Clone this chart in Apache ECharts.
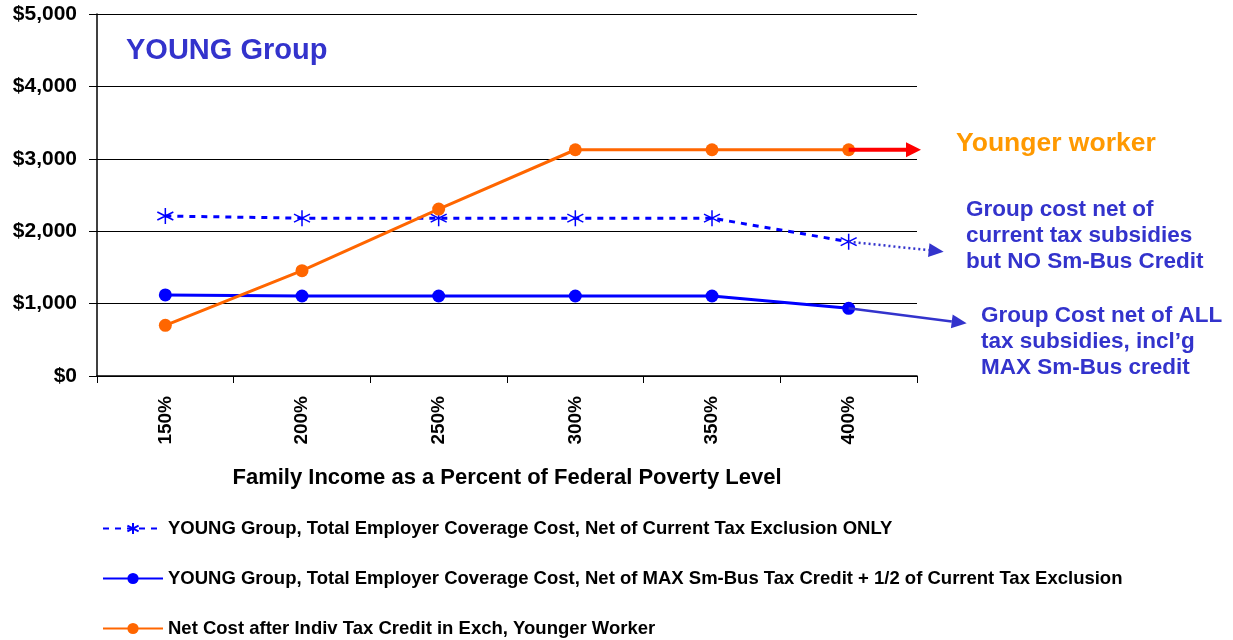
<!DOCTYPE html>
<html>
<head>
<meta charset="utf-8">
<title>YOUNG Group – coverage cost by income</title>
<script src="https://cdn.jsdelivr.net/npm/echarts@6/dist/echarts.min.js"></script>
<style>
  html, body { margin: 0; padding: 0; background: #fff; }
  #main { width: 1233px; height: 640px; }
</style>
</head>
<body>
<div id="main"></div>
<script>
// Income levels (percent of federal poverty level)
const categories = ['150%', '200%', '250%', '300%', '350%', '400%'];

// Employer coverage cost net of the current tax exclusion only
const groupNetExclusion = [2210, 2180, 2180, 2180, 2180, 1855];
// Employer coverage cost net of MAX small-business credit + 1/2 exclusion
const groupNetAllCredits = [1120, 1105, 1105, 1105, 1105, 935];
// Individual net cost after exchange tax credit, younger worker
const youngerWorkerNet = [700, 1455, 2305, 3125, 3125, 3125];

const yTicks = { min: 0, max: 5000, interval: 1000 };

const seriesNames = [
  'YOUNG Group, Total Employer Coverage Cost, Net of Current Tax Exclusion ONLY',
  'YOUNG Group, Total Employer Coverage Cost, Net of MAX Sm-Bus Tax Credit + 1/2 of Current Tax Exclusion',
  'Net Cost after Indiv Tax Credit in Exch, Younger Worker'
];

const FONT = '"Liberation Sans", Arial, Helvetica, sans-serif';
const BLUE = '#0000ff';
const ORANGE = '#ff6600';
const NOTE_BLUE = '#3333cc';

const asterisk = 'path://M5,0L5,10M0.7,2.5L9.3,7.5M0.7,7.5L9.3,2.5';

const chart = echarts.init(document.getElementById('main'), null, { renderer: 'canvas' });

function legendAt(name, top) {
  return {
    data: [name],
    orient: 'horizontal',
    left: 102,
    top: top,
    padding: 0,
    itemWidth: 60,
    itemHeight: 14,
    itemGap: 0,
    selectedMode: false,
    textStyle: { fontFamily: FONT, fontSize: 18.5, fontWeight: 'bold', color: '#000', padding: [0, 0, 0, 0] }
  };
}

chart.setOption({
  animation: false,
  backgroundColor: '#fff',
  grid: { left: 97, right: 316, top: 14, bottom: 264, containLabel: false },
  legend: [
    legendAt(seriesNames[0], 519),
    legendAt(seriesNames[1], 569),
    legendAt(seriesNames[2], 619)
  ],
  xAxis: {
    type: 'category',
    data: categories,
    boundaryGap: true,
    axisLine: { lineStyle: { color: '#000', width: 1.5 } },
    axisTick: { show: true, length: 7, lineStyle: { color: '#000', width: 1 } },
    axisLabel: {
      rotate: 90, margin: 20, color: '#000',
      fontFamily: FONT, fontSize: 19, fontWeight: 'bold'
    },
    name: 'Family Income as a Percent of Federal Poverty Level',
    nameLocation: 'middle',
    nameGap: 91,
    nameTextStyle: { fontFamily: FONT, fontSize: 22, fontWeight: 'bold', color: '#000' }
  },
  yAxis: {
    type: 'value',
    min: yTicks.min, max: yTicks.max, interval: yTicks.interval,
    axisLine: { show: true, lineStyle: { color: '#000', width: 1.5 } },
    axisTick: { show: true, length: 8, lineStyle: { color: '#000', width: 1 } },
    splitLine: { show: true, lineStyle: { color: '#000', width: 1 } },
    axisLabel: {
      margin: 20, color: '#000',
      fontFamily: FONT, fontSize: 21, fontWeight: 'bold',
      formatter: v => '$' + v.toLocaleString('en-US')
    }
  },
  series: [
    {
      name: seriesNames[0],
      type: 'line',
      data: groupNetExclusion,
      symbol: asterisk,
      symbolSize: 16,
      lineStyle: { color: BLUE, width: 3, type: [6, 6] },
      itemStyle: { color: BLUE, borderColor: BLUE, borderWidth: 1.5 },
      z: 2
    },
    {
      name: seriesNames[1],
      type: 'line',
      data: groupNetAllCredits,
      symbol: 'circle',
      symbolSize: 13,
      lineStyle: { color: BLUE, width: 3 },
      itemStyle: { color: BLUE, borderWidth: 0 },
      z: 3
    },
    {
      name: seriesNames[2],
      type: 'line',
      data: youngerWorkerNet,
      symbol: 'circle',
      symbolSize: 13,
      lineStyle: { color: ORANGE, width: 3 },
      itemStyle: { color: ORANGE, borderWidth: 0 },
      z: 4
    }
  ]
});

// Pointer arrows from the last point of each series out to the notes
function arrow(p0, p1, color, width, dash, headLen, headW) {
  const dx = p1[0] - p0[0], dy = p1[1] - p0[1];
  const len = Math.hypot(dx, dy);
  const ux = dx / len, uy = dy / len;
  const bx = p1[0] - ux * headLen, by = p1[1] - uy * headLen;
  const px = -uy * headW / 2, py = ux * headW / 2;
  return [
    {
      type: 'line', z: 50, silent: true,
      shape: { x1: p0[0], y1: p0[1], x2: bx, y2: by },
      style: { stroke: color, lineWidth: width, lineDash: dash || null }
    },
    {
      type: 'polygon', z: 50, silent: true,
      shape: { points: [[p1[0], p1[1]], [bx + px, by + py], [bx - px, by - py]] },
      style: { fill: color }
    }
  ];
}

const last = categories.length - 1;
const pOrange = chart.convertToPixel({ seriesIndex: 2 }, [last, youngerWorkerNet[last]]);
const pDashed = chart.convertToPixel({ seriesIndex: 0 }, [last, groupNetExclusion[last]]);
const pSolid = chart.convertToPixel({ seriesIndex: 1 }, [last, groupNetAllCredits[last]]);
const prev = chart.convertToPixel({ seriesIndex: 2 }, [last - 1, youngerWorkerNet[last - 1]]);
const band = pOrange[0] - prev[0];

const notes = [
  { text: 'YOUNG Group', x: 126, y: 51, size: 29, color: NOTE_BLUE },
  { text: 'Younger worker', x: 956, y: 144, size: 26.5, color: '#ff9900' },
  { text: 'Group cost net of\ncurrent tax subsidies\nbut NO Sm-Bus Credit', x: 966, y: 236, size: 22.5, color: NOTE_BLUE },
  { text: 'Group Cost net of ALL\ntax subsidies, incl\u2019g\nMAX Sm-Bus credit', x: 981, y: 342, size: 22.5, color: NOTE_BLUE }
];

const graphics = notes.map(n => ({
  type: 'text', x: n.x, y: n.y, z: 60, silent: true,
  style: {
    text: n.text, fill: n.color,
    font: 'bold ' + n.size + 'px ' + FONT,
    lineHeight: 26,
    verticalAlign: 'middle', align: 'left'
  }
}));

graphics.push(
  ...arrow(pOrange, [pOrange[0] + band / 2 + 4, pOrange[1]], '#ff0000', 4, null, 15, 15),
  ...arrow(pDashed, [pDashed[0] + 95, pDashed[1] + 10], NOTE_BLUE, 2.5, [2, 3], 15, 14),
  ...arrow(pSolid, [pSolid[0] + 118, pSolid[1] + 15], NOTE_BLUE, 2.5, null, 15, 14)
);

chart.setOption({ graphic: graphics });
</script>
</body>
</html>
